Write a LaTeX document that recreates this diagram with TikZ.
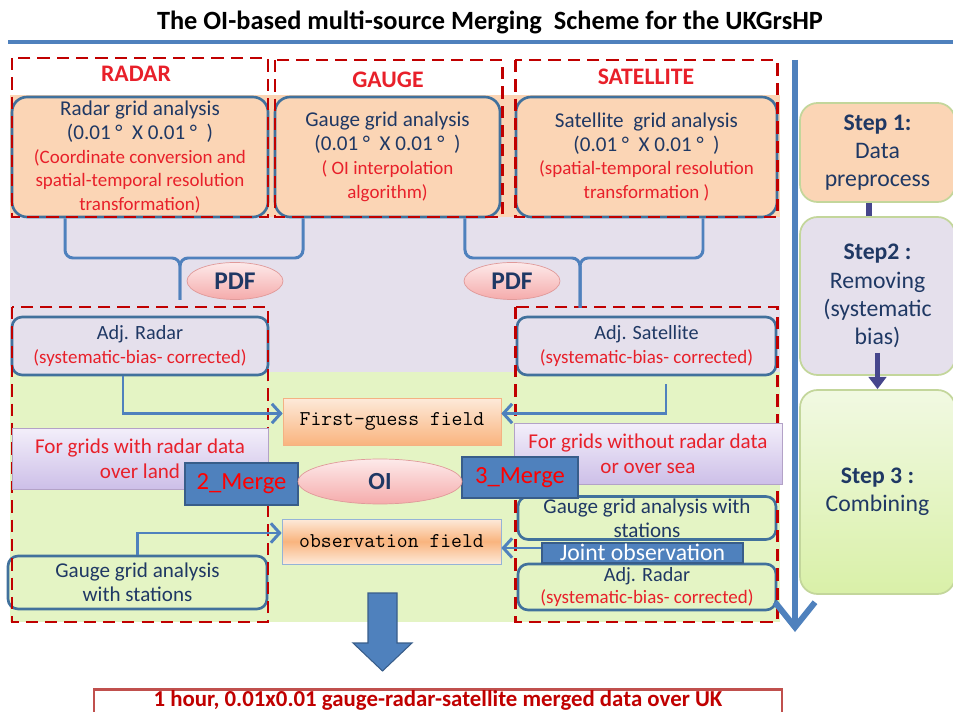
\documentclass[tikz,border=0pt]{standalone}
\usepackage{fontspec}
\setmainfont{Carlito}
\usetikzlibrary{shapes.geometric,arrows.meta}
\definecolor{mainblue}{HTML}{4F81BD}
\definecolor{boxblue}{HTML}{41719C}
\definecolor{darkblue}{HTML}{385D8A}
\definecolor{navytxt}{HTML}{1F3864}
\definecolor{redtxt}{HTML}{E8202A}
\definecolor{reddash}{HTML}{C00000}
\definecolor{resultred}{HTML}{C0504D}
\definecolor{orangefill}{HTML}{FBD5B5}
\definecolor{lavfill}{HTML}{E5E0EC}
\definecolor{greenfill}{HTML}{E4F4C4}
\definecolor{steptop}{HTML}{F1F9E2}
\definecolor{stepbot}{HTML}{D9F0A8}
\definecolor{stepline}{HTML}{C3D69B}
\definecolor{stepnavy}{HTML}{46468C}
\definecolor{purpletop}{HTML}{F3EFFA}
\definecolor{purplebot}{HTML}{CDBFE8}
\definecolor{purpleline}{HTML}{B3A2C7}
\definecolor{pinktop}{HTML}{FDEAEA}
\definecolor{pinkbot}{HTML}{F5ABAB}
\definecolor{pinkline}{HTML}{E09A9A}
\definecolor{fieldtop}{HTML}{FDEADA}
\definecolor{fieldbot}{HTML}{F9B47E}
\definecolor{fieldline}{HTML}{F4B183}
\definecolor{obsline}{HTML}{95B3D7}
\newcommand\redln[1]{{\color{redtxt}\fontsize{10.8}{12.5}\selectfont #1}}

\begin{document}
\begin{tikzpicture}[x=0.02cm, y=-0.02cm,
  srcbox/.style={draw=boxblue, line width=1.5pt, rounded corners=0.3cm, fill=orangefill, align=center, inner sep=0pt, text=navytxt, font=\fontsize{12}{13.6}\selectfont},
  adjbox/.style={srcbox, rounded corners=0.2cm, fill=lavfill, font=\fontsize{11.5}{13.6}\selectfont},
  greenbox/.style={srcbox, rounded corners=0.2cm, fill=greenfill},
  regionbox/.style={draw=reddash, line width=1.7pt, dash pattern=on 7pt off 4pt},
  heading/.style={text=redtxt, font=\bfseries\fontsize{13.5}{15}\selectfont},
  pdfoval/.style={ellipse, draw=pinkline, top color=pinktop, bottom color=pinkbot, text=navytxt, font=\bfseries\fontsize{14.5}{16}\selectfont, inner sep=0pt},
  conditionbox/.style={draw=purpleline, top color=purpletop, bottom color=purplebot, text=redtxt, align=center, inner sep=0pt, font=\fontsize{12}{14.5}\selectfont},
  mergebox/.style={draw=darkblue, line width=1.2pt, fill=mainblue, text=red, inner sep=0pt, font=\fontsize{14}{16}\selectfont},
  fieldbox/.style={draw=fieldline, top color=fieldtop, bottom color=fieldbot, inner sep=0pt, font=\ttfamily\fontsize{12}{14}\selectfont},
  flow/.style={draw=mainblue, line width=1.7pt, -{Straight Barb[length=5pt,width=11pt]}},
  bracearm/.style={draw=mainblue, line width=1.7pt, rounded corners=0.16cm},
  stepbox/.style={draw=stepline, line width=1pt, rounded corners=0.35cm, align=center, inner sep=0pt, text=navytxt, font=\fontsize{13.5}{16}\selectfont, minimum width=3.1cm}
]
\useasboundingbox (0,0) rectangle (953,712);
\clip (0,0) rectangle (953,712);

\fill[orangefill] (10,95) rectangle (780,217);
\fill[lavfill] (10,217) rectangle (780,372);
\fill[greenfill] (10,372) rectangle (780,622);

\node (title) at (490,22) {\bfseries\fontsize{15}{17}\selectfont The OI-based multi-source Merging\ \ Scheme for the UKGrsHP};
\draw[mainblue, line width=2.2pt] (8,42) -- (953,42);

\node[srcbox, minimum width=5.12cm, minimum height=2.4cm] (radar) at (140,157) {Radar grid analysis\\(0.01 °\ \ X 0.01 °\ \ )\\\redln{(Coordinate conversion and}\\\redln{spatial-temporal resolution}\\\redln{transformation)}};
\node[srcbox, minimum width=4.5cm, minimum height=2.4cm] (gauge) at (387.5,157) {Gauge grid analysis\\(0.01 °\ \ X 0.01 °\ \ )\\\redln{( OI interpolation}\\\redln{algorithm)}};
\node[srcbox, minimum width=5.22cm, minimum height=2.4cm] (satellite) at (646.5,157) {Satellite\ \ grid analysis\\(0.01 °\ \ X 0.01 °\ \ )\\\redln{(spatial-temporal resolution}\\\redln{transformation )}};

\node[adjbox, minimum width=5.12cm, minimum height=1.16cm] (adjradar) at (140,346) {Adj. Radar\\\redln{(systematic-bias- corrected)}};
\node[adjbox, minimum width=5.18cm, minimum height=1.16cm] (adjsat) at (646.5,346) {Adj. Satellite\\\redln{(systematic-bias- corrected)}};

\node[greenbox, minimum width=5.18cm, minimum height=1.06cm] (stations) at (137.5,582.5) {Gauge grid analysis\\with stations};
\node[greenbox, minimum width=5.16cm, minimum height=0.86cm] (stationsr) at (647,518) {Gauge grid analysis with\\stations};
\node[greenbox, font=\fontsize{11.5}{13}\selectfont, minimum width=5.16cm, minimum height=0.92cm] (adjradarr) at (647,587) {Adj. Radar\\\redln{(systematic-bias- corrected)}};

\draw[regionbox] (12,58) rectangle (268,217);
\draw[regionbox] (275,60) rectangle (502,217);
\draw[regionbox] (515,60) rectangle (777,217);
\draw[regionbox] (12,307) rectangle (268,622);
\draw[regionbox] (515,307) rectangle (777,622);

\node[heading] (radarhead) at (136,74) {RADAR};
\node[heading] (gaugehead) at (388,80) {GAUGE};
\node[heading] (sathead) at (646,77) {SATELLITE};

\coordinate (lefttip) at (180,300);
\coordinate (righttip) at (580,308);
\draw[bracearm] ([xshift=-1.5cm]radar.south) |- (180,258) -- (lefttip);
\draw[bracearm] ([xshift=-1.69cm]gauge.south) |- (180,258) -- (lefttip);
\draw[bracearm] ([xshift=1.55cm]gauge.south) |- (580,258) -- (righttip);
\draw[bracearm] ([xshift=1.13cm]satellite.south) |- (580,258) -- (righttip);

\node[pdfoval, minimum width=1.92cm, minimum height=0.74cm] (pdfleft) at (235,281) {PDF};
\node[pdfoval, minimum width=1.92cm, minimum height=0.74cm] (pdfright) at (512,281) {PDF};

\node[fieldbox, minimum width=4.36cm, minimum height=0.94cm] (firstguess) at (392,421.5) {First-guess field};
\node[fieldbox, draw=obsline, top color=fieldtop, bottom color=fieldtop, middle color=fieldbot, minimum width=4.38cm, minimum height=0.9cm] (obsfield) at (391.5,541.5) {observation field};

\node[conditionbox, minimum width=5.12cm, minimum height=1.22cm] (withradar) at (140,458.5) {For grids with radar data\\over land};
\node[conditionbox, minimum width=5.36cm, minimum height=1.22cm] (noradar) at (648,453.5) {For grids without radar data\\or over sea};

\node[mergebox, minimum width=2.26cm, minimum height=0.84cm] (merge2) at (241.5,484) {2\_Merge};
\node[mergebox, minimum width=2.32cm, minimum height=0.82cm] (merge3) at (520,477.5) {3\_Merge};
\node[pdfoval, minimum width=3.28cm, minimum height=0.9cm, font=\bfseries\fontsize{14}{16}\selectfont] (oi) at (380,481.5) {OI};
\node[mergebox, text=white, minimum width=4.02cm, minimum height=0.4cm, text height=9pt, text depth=1pt, font=\fontsize{13.5}{15}\selectfont] (joint) at (642.5,553) {Joint observation};

\draw[flow] ([xshift=-0.34cm]adjradar.south) |- ([yshift=0.16cm]firstguess.west);
\draw[flow] ([xshift=0.39cm,yshift=-0.16cm]adjsat.south) |- ([yshift=0.16cm]firstguess.east);
\draw[flow] (stations.north) |- ([yshift=0.17cm]obsfield.west);
\draw[flow] ([yshift=0.1cm]joint.west) -- ([yshift=0.1cm]joint.west -| obsfield.east);

\filldraw[fill=mainblue, draw=darkblue, line width=0.6pt] (368,593) -- (397,593) -- (397,643) -- (412,643) -- (382.5,671) -- (353,643) -- (368,643) -- cycle;
\node[draw=resultred, line width=1.5pt, anchor=north, minimum width=13.76cm, text height=10pt, text depth=14pt, inner ysep=0pt, inner xsep=0pt, text=reddash, font=\bfseries\fontsize{13}{15}\selectfont] (result) at (438,688) {1 hour, 0.01x0.01 gauge-radar-satellite merged data over UK};

\coordinate (flowtop) at (795,60);
\coordinate (flowend) at (795,632);
\draw[mainblue, line width=3.4pt, -{Straight Barb[length=0.5cm,width=0.8cm]}] (flowtop) -- (flowend);

\node[stepbox, fill=orangefill, minimum height=1.98cm] (step1) at (877.5,152.5) {\textbf{Step 1:}\\Data\\preprocess};
\node[stepbox, fill=lavfill, minimum height=3.16cm] (step2) at (877.5,296) {\textbf{Step2 :}\\Removing\\(systematic\\bias)};
\node[stepbox, top color=steptop, bottom color=stepbot, minimum height=4.08cm] (step3) at (877.5,492) {\textbf{Step 3 :}\\Combining};
\draw[stepnavy, line width=3.4pt] ([xshift=-0.18cm]step1.south) -- ([xshift=-0.18cm]step2.north);
\draw[stepnavy, line width=3pt, -{Triangle[length=7pt,width=10pt]}] ([yshift=0.46cm]step2.south) -- (step3.north);
\end{tikzpicture}
\end{document}
